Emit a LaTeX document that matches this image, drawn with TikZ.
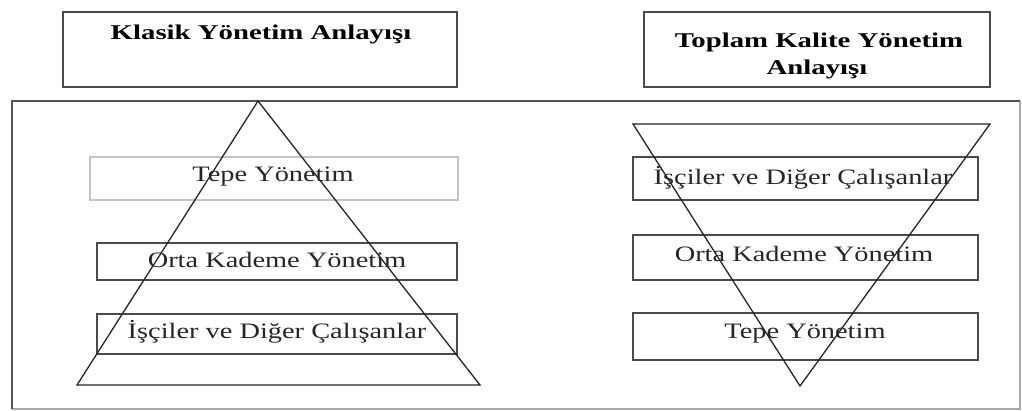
\documentclass[tikz,border=0pt]{standalone}
\usepackage{fontspec}
\setmainfont{Liberation Serif}
\usepackage{graphicx}
\definecolor{boxgray}{HTML}{4A4A4A}
\definecolor{lightbox}{HTML}{C4C4C4}
\definecolor{framedark}{HTML}{555555}
\definecolor{framelight}{HTML}{A8A8A8}
\definecolor{txtgray}{HTML}{262626}
\newcommand{\rtxt}[1]{\scalebox{1.29}[1]{#1}}
\newcommand{\btxt}[1]{\scalebox{1.37}[1]{\bfseries #1}}
\tikzset{
  box/.style={draw=boxgray, line width=1.6pt, inner sep=0pt},
  faintbox/.style={draw=lightbox, line width=1.4pt, inner sep=0pt},
  lbl/.style={anchor=base, inner sep=0pt, text=txtgray, font=\fontsize{22}{26}\selectfont},
  ttl/.style={anchor=base, inner sep=0pt, text=black, font=\fontsize{21}{25}\selectfont},
  tri/.style={draw=black!85, line width=1.3pt, line join=miter}
}
\begin{document}
\begin{tikzpicture}[x=1pt,y=-1pt]
\useasboundingbox (0,0) rectangle (1022,411);
\fill[white] (0,0) rectangle (1022,411);
% frame
\coordinate (fTL) at (12,101);
\coordinate (fTR) at (1020,101);
\coordinate (fBR) at (1020,409);
\coordinate (fBL) at (12,409);
\draw[framelight, line width=1.4pt] (fTR) -- (fBR) -- (fBL);
\draw[framedark, line width=1.6pt] (fBL) -- (fTL) -- (fTR);
% title boxes
\node[box, minimum width=394pt, minimum height=75pt] (tL) at (260,49.5) {};
\node[box, minimum width=346pt, minimum height=75pt] (tR) at (817,49.5) {};
\node[ttl] (tLtxt) at (261,40) {\btxt{Klasik Yönetim Anlayışı}};
\node[ttl] (tRtxt1) at (819,48) {\btxt{Toplam Kalite Yönetim}};
\node[ttl] (tRtxt2) at (817,75) {\btxt{Anlayışı}};
% left boxes
\node[faintbox, minimum width=368pt, minimum height=43pt] (L1) at (274,178.5) {};
\node[box, minimum width=360pt, minimum height=37pt] (L2) at (277,261.5) {};
\node[box, minimum width=360pt, minimum height=40pt] (L3) at (277,334) {};
\node[lbl] (L1t) at (273,182) {\rtxt{Tepe Yönetim}};
\node[lbl] (L2t) at (277,268) {\rtxt{Orta Kademe Yönetim}};
\node[lbl] (L3t) at (277,338) {\rtxt{İşçiler ve Diğer Çalışanlar}};
% right boxes
\node[box, minimum width=345pt, minimum height=43pt] (R1) at (805.5,178.5) {};
\node[box, minimum width=345pt, minimum height=45pt] (R2) at (805.5,257.5) {};
\node[box, minimum width=345pt, minimum height=47pt] (R3) at (805.5,336.5) {};
\node[lbl] (R1t) at (803,185) {\rtxt{İşçiler ve Diğer Çalışanlar}};
\node[lbl] (R2t) at (804,262) {\rtxt{Orta Kademe Yönetim}};
\node[lbl] (R3t) at (805,338) {\rtxt{Tepe Yönetim}};
% triangles
\coordinate (lA) at (258,101);
\coordinate (lB) at (77,385);
\coordinate (lC) at (480,385);
\draw[tri] (lA) -- (lB) -- (lC) -- cycle;
\coordinate (rA) at (633,124);
\coordinate (rB) at (990,124);
\coordinate (rC) at (800,386);
\draw[tri] (rA) -- (rB) -- (rC) -- cycle;
\end{tikzpicture}
\end{document}
